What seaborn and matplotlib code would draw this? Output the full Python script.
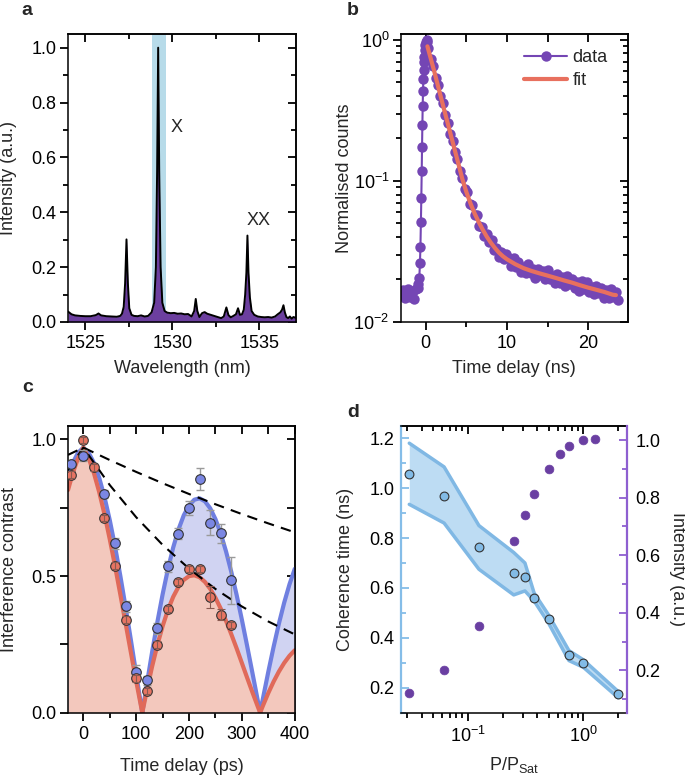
import numpy as np
import pandas as pd
import matplotlib
matplotlib.use("Agg")
import matplotlib.pyplot as plt
import seaborn as sns
from matplotlib.ticker import (MultipleLocator, LogLocator, NullFormatter,
                               FuncFormatter, LogFormatterSciNotation)

# ---------------- Panel a: PL spectrum ----------------
wavelength = [1524.0, 1524.2, 1524.4, 1524.7, 1525.0, 1525.3, 1525.6, 1525.75, 1525.9, 1526.2,
              1526.5, 1526.8, 1527.0, 1527.1, 1527.2, 1527.28, 1527.36, 1527.44, 1527.52, 1527.65,
              1527.8, 1528.0, 1528.2, 1528.4, 1528.6, 1528.8, 1528.95, 1529.05, 1529.12, 1529.18,
              1529.24, 1529.32, 1529.42, 1529.55, 1529.7, 1529.9, 1530.1, 1530.3, 1530.5, 1530.7,
              1530.9, 1531.1, 1531.25, 1531.34, 1531.43, 1531.55, 1531.7, 1531.85, 1532.0, 1532.2,
              1532.4, 1532.6, 1532.8, 1532.95, 1533.1, 1533.22, 1533.35, 1533.5, 1533.65, 1533.77,
              1533.88, 1534.0, 1534.1, 1534.18, 1534.25, 1534.31, 1534.37, 1534.45, 1534.55, 1534.7,
              1534.9, 1535.1, 1535.3, 1535.5, 1535.7, 1535.9, 1536.05, 1536.2, 1536.3, 1536.38,
              1536.46, 1536.55, 1536.65, 1536.75, 1536.85, 1536.95, 1537.1]
intensity_a = [0.038, 0.028, 0.024, 0.022, 0.021, 0.021, 0.025, 0.031, 0.024, 0.021,
               0.020, 0.019, 0.022, 0.030, 0.055, 0.14, 0.301, 0.14, 0.05, 0.026,
               0.022, 0.021, 0.024, 0.020, 0.022, 0.035, 0.07, 0.2, 0.55, 1.0,
               0.55, 0.2, 0.07, 0.04, 0.034, 0.032, 0.033, 0.030, 0.031, 0.028,
               0.029, 0.020, 0.04, 0.084, 0.04, 0.018, 0.032, 0.036, 0.030, 0.026,
               0.022, 0.018, 0.014, 0.020, 0.053, 0.025, 0.017, 0.022, 0.028, 0.05,
               0.026, 0.028, 0.045, 0.10, 0.18, 0.315, 0.18, 0.09, 0.04, 0.026,
               0.02, 0.018, 0.017, 0.018, 0.016, 0.02, 0.028, 0.035, 0.045, 0.061,
               0.035, 0.018, 0.014, 0.02, 0.012, 0.018, 0.015]
band_a = [1528.8, 1529.65]
peak_labels = ["X", "XX"]
peak_label_pos = [(1530.25, 0.71), (1534.97, 0.37)]

# ---------------- Panel b: lifetime ----------------
t_data = [-3.0, -2.8, -2.6, -2.4, -2.2, -2.0, -1.8, -1.6, -1.4, -1.2, -1.0,
          -0.9, -0.8, -0.72, -0.66, -0.6, -0.55, -0.5, -0.46, -0.42, -0.38, -0.34,
          -0.3, -0.26, -0.22, -0.17, -0.12, -0.07, 0.0, 0.1, 0.2,
          0.3, 0.6, 0.9, 1.2, 1.5, 1.8, 2.1, 2.4, 2.7, 3.0, 3.3, 3.6, 3.9, 4.2, 4.5, 4.8,
          5.1, 5.4, 5.7, 6.0, 6.3, 6.6, 6.9, 7.2, 7.5, 7.8, 8.1, 8.4, 8.7, 9.0, 9.3, 9.6, 9.9,
          10.2, 10.5, 10.8, 11.1, 11.4, 11.7, 12.0, 12.3, 12.6, 12.9, 13.2, 13.5, 13.8, 14.1,
          14.4, 14.7, 15.0, 15.3, 15.6, 15.9, 16.2, 16.5, 16.8, 17.1, 17.4, 17.7, 18.0, 18.3,
          18.6, 18.9, 19.2, 19.5, 19.8, 20.1, 20.4, 20.7, 21.0, 21.3, 21.6, 21.9, 22.2, 22.5,
          22.8, 23.1, 23.4, 23.7]
counts = [0.0155, 0.0168, 0.0147, 0.0162, 0.0172, 0.0150, 0.0160, 0.0166, 0.0146, 0.0170, 0.0175,
          0.0185, 0.0204, 0.026, 0.034, 0.0514, 0.0753, 0.118, 0.175, 0.25, 0.34, 0.435,
          0.53, 0.61, 0.695, 0.76, 0.85, 0.92, 0.97, 1.0, 0.96,
          0.877, 0.731, 0.652, 0.537, 0.475, 0.399, 0.355, 0.292, 0.258, 0.215, 0.193, 0.161,
          0.144, 0.118, 0.1045, 0.0881,
          0.0830, 0.0689, 0.0679, 0.0575, 0.0570, 0.0478, 0.0472, 0.0407, 0.0420, 0.0369, 0.0380,
          0.0325, 0.0332, 0.0290, 0.0313, 0.0279, 0.0301,
          0.0286, 0.0249, 0.0283, 0.0247, 0.0267, 0.0226, 0.0247, 0.0224, 0.0257, 0.0221, 0.0236,
          0.0206, 0.0239, 0.0215, 0.0231, 0.0201, 0.0233, 0.0201, 0.0213, 0.0190, 0.0218, 0.0190,
          0.0208, 0.0179, 0.0211, 0.0186, 0.0201, 0.0175, 0.0192, 0.0167, 0.0194, 0.0170, 0.0191,
          0.0164, 0.0177, 0.0158, 0.0181, 0.0160, 0.0175, 0.0149, 0.0169, 0.0149, 0.0171, 0.0150,
          0.0162, 0.0143]
t_fit = [0.2, 0.5, 1, 1.5, 2, 2.5, 3, 3.5, 4, 4.5, 5, 5.5, 6, 6.5, 7, 7.5, 8, 8.5, 9, 9.5, 10,
         11, 12, 13, 14, 15, 16, 17, 18, 19, 20, 21, 22, 23, 23.4]
fit_b = [0.899, 0.778, 0.610, 0.471, 0.365, 0.283, 0.220, 0.171, 0.133, 0.103, 0.0832, 0.0692,
         0.0589, 0.0513, 0.0452, 0.0403, 0.0365, 0.0335, 0.0310, 0.0292, 0.0278,
         0.0257, 0.0241, 0.0230, 0.0221, 0.0213, 0.0205, 0.0197, 0.0190, 0.0182, 0.0175,
         0.0169, 0.0163, 0.0156, 0.0155]

# ---------------- Panel c: interference contrast ----------------
tc_blue = [-23, 0, 40, 60, 80, 100, 120, 140, 160, 180, 200, 220, 240, 260, 280]
con_blue = [0.909, 0.941, 0.80, 0.62, 0.39, 0.149, 0.118, 0.309, 0.535, 0.655, 0.749, 0.855,
            0.695, 0.656, 0.484]
err_blue = [0.01, 0.02, 0.015, 0.02, 0.02, 0.025, 0.015, 0.02, 0.02, 0.02, 0.025, 0.04,
            0.045, 0.035, 0.086]
tc_red = [-23, 0, 20, 40, 60, 80, 100, 120, 140, 160, 180, 200, 220, 240, 260, 280]
con_red = [0.871, 0.998, 0.898, 0.712, 0.538, 0.341, 0.126, 0.079, 0.249, 0.379, 0.478,
           0.526, 0.526, 0.423, 0.359, 0.321]
err_red = [0.012, 0.012, 0.012, 0.012, 0.012, 0.012, 0.012, 0.012, 0.012, 0.012, 0.012,
           0.012, 0.012, 0.04, 0.02, 0.012]
t_curve = [-29, -20, -10, 0, 10, 20, 30, 40, 50, 60, 70, 80, 90, 100, 110, 111.5, 120, 130,
           140, 150, 160, 170, 180, 190, 200, 210, 220, 230, 240, 250, 260, 270, 280, 290, 300,
           310, 320, 330, 334.5, 340, 350, 360, 370, 380, 390, 400]
fit_blue = [0.8657, 0.9140, 0.9512, 0.970, 0.9512, 0.9140, 0.8595, 0.7891, 0.7044, 0.6076,
            0.5004, 0.3855, 0.2652, 0.1420, 0.0184, 0.0, 0.1032, 0.2206, 0.3313, 0.4333,
            0.5250, 0.6044, 0.6705, 0.7222, 0.7584, 0.7794, 0.7842, 0.7736, 0.7480, 0.7081,
            0.6550, 0.5899, 0.5146, 0.4311, 0.3396, 0.2433, 0.1446, 0.0448, 0.0, 0.0541,
            0.1501, 0.2412, 0.3258, 0.4025, 0.4695, 0.5262]
fit_red = [0.8148, 0.8766, 0.9316, 0.970, 0.9316, 0.8766, 0.8073, 0.7259, 0.6347, 0.5361,
           0.4324, 0.3262, 0.2198, 0.1153, 0.0146, 0.0, 0.0803, 0.1682, 0.2474, 0.3169,
           0.3759, 0.4240, 0.4606, 0.4858, 0.4997, 0.5028, 0.4956, 0.4787, 0.4533, 0.4202,
           0.3807, 0.3359, 0.2869, 0.2354, 0.1816, 0.1274, 0.0742, 0.0225, 0.0, 0.0266,
           0.0723, 0.1138, 0.1505, 0.1821, 0.2081, 0.2284]
t_env = [-29, 0, 50, 100, 150, 200, 250, 300, 350, 400]
env_slow = [0.9433, 0.970, 0.9244, 0.8810, 0.8396, 0.8002, 0.7626, 0.7267, 0.6926, 0.6600]
env_fast = [0.8879, 0.970, 0.8329, 0.7151, 0.6140, 0.5272, 0.4526, 0.3886, 0.3337, 0.2865]

# ---------------- Panel d: coherence vs power ----------------
p_coh = [0.03125, 0.0625, 0.125, 0.25, 0.3125, 0.375, 0.5, 0.75, 1.0, 2.0]
tau_coh = [1.058, 0.970, 0.763, 0.661, 0.645, 0.559, 0.474, 0.330, 0.299, 0.173]
tau_hi = [1.18, 1.085, 0.85, 0.742, 0.70, 0.58, 0.492, 0.349, 0.312, 0.185]
tau_lo = [0.935, 0.86, 0.675, 0.572, 0.588, 0.548, 0.459, 0.309, 0.282, 0.16]
p_int = [0.03125, 0.0625, 0.125, 0.25, 0.3125, 0.375, 0.5, 0.625, 0.75, 1.0, 1.25]
int_d = [0.122, 0.20, 0.354, 0.65, 0.74, 0.812, 0.901, 0.951, 0.979, 1.002, 1.003]

# ---------------- style ----------------
sns.set_style("ticks")
plt.rcParams["font.family"] = ["Liberation Sans", "DejaVu Sans"]
plt.rcParams.update({
    "mathtext.fontset": "custom",
    "mathtext.rm": "Liberation Sans",
    "mathtext.it": "Liberation Sans:italic",
    "mathtext.bf": "Liberation Sans:bold",
    "mathtext.sf": "Liberation Sans",
    "font.size": 13,
    "axes.linewidth": 1.1,
    "axes.edgecolor": "black",
    "xtick.color": "black",
    "ytick.color": "black",
    "xtick.labelcolor": "black",
    "ytick.labelcolor": "black",
})

PURPLE = "#6c3f9f"
LBLUE_BAND = "#b7dbe9"
B_DATA = "#7446b4"
B_FIT = "#e8705e"
C_BLUE_LINE = "#6f7fe0"
C_BLUE_FILL = "#d0d3f2"
C_RED_LINE = "#e06a5a"
C_RED_FILL = "#f3c8bd"
C_BLUE_M = "#7b87e3"
C_RED_M = "#e77462"
D_FILL = "#bddcf3"
D_EDGE = "#80b8e4"
D_BLUE_M = "#82bbe6"
D_PURP = "#6a3fa2"
D_LSPINE = "#85bde8"
D_RSPINE = "#8e5fd0"

MAJ, MIN, W = 5.8, 3.4, 1.3

fig = plt.figure(figsize=(6.85, 7.79), dpi=100)
axa = fig.add_axes([0.0993, 0.5867, 0.3328, 0.3697])
axb = fig.add_axes([0.5854, 0.5867, 0.3310, 0.3697])
axc = fig.add_axes([0.0993, 0.0851, 0.3310, 0.3684])
axd = fig.add_axes([0.5854, 0.0851, 0.3304, 0.3684])


def base_ticks(ax):
    ax.tick_params(which="major", length=MAJ, width=W, direction="out",
                   top=False, right=False, labelsize=13, color="black")
    ax.tick_params(which="minor", length=MIN, width=W, direction="out",
                   top=False, right=False, color="black")
    ax.tick_params(axis="y", which="major", pad=2.5)


def mirror_x(ax, major, minor):
    s = ax.secondary_xaxis("top")
    s.xaxis.set_major_locator(major)
    s.xaxis.set_minor_locator(minor)
    s.xaxis.set_major_formatter(NullFormatter())
    s.xaxis.set_minor_formatter(NullFormatter())
    s.tick_params(which="major", direction="in", length=MAJ, width=W, color="black")
    s.tick_params(which="minor", direction="in", length=MIN, width=W, color="black")
    return s


def mirror_y(ax, major, minor):
    s = ax.secondary_yaxis("right")
    s.yaxis.set_major_locator(major)
    s.yaxis.set_minor_locator(minor)
    s.yaxis.set_major_formatter(NullFormatter())
    s.yaxis.set_minor_formatter(NullFormatter())
    s.tick_params(which="major", direction="in", length=MAJ, width=W, color="black")
    s.tick_params(which="minor", direction="in", length=MIN, width=W, color="black")
    return s


# ---------- a ----------
df_a = pd.DataFrame({"wl": wavelength, "I": intensity_a})
axa.axvspan(band_a[0], band_a[1], color=LBLUE_BAND, zorder=0, lw=0)
axa.fill_between(df_a["wl"], df_a["I"], color=PURPLE, lw=0, zorder=1)
sns.lineplot(data=df_a, x="wl", y="I", ax=axa, color="black", lw=1.4, zorder=2,
             estimator=None, sort=False)
for lab, (px, py) in zip(peak_labels, peak_label_pos):
    axa.text(px, py, lab, ha="center", va="center", fontsize=13)
axa.set_xlim(1524.0, 1537.1)
axa.set_ylim(0, 1.05)
base_ticks(axa)
axa.xaxis.set_major_locator(MultipleLocator(5))
axa.xaxis.set_minor_locator(MultipleLocator(2.5))
axa.yaxis.set_major_locator(MultipleLocator(0.2))
axa.yaxis.set_minor_locator(MultipleLocator(0.1))
axa.yaxis.set_major_formatter(FuncFormatter(lambda v, p: f"{v:.1f}"))
mirror_x(axa, MultipleLocator(5), MultipleLocator(2.5))
mirror_y(axa, MultipleLocator(0.2), MultipleLocator(0.1))
axa.set_xlabel("Wavelength (nm)", fontsize=13, va="center")
axa.set_ylabel("Intensity (a.u.)", fontsize=13, va="center")
axa.xaxis.set_label_coords(0.5, -0.163)
axa.yaxis.set_label_coords(-0.259, 0.5)

# ---------- b ----------
df_b = pd.DataFrame({"t": t_data, "c": counts})
df_fit = pd.DataFrame({"t": t_fit, "c": fit_b})
sns.lineplot(data=df_b, x="t", y="c", ax=axb, color=B_DATA, lw=1.5, marker="o",
             markersize=7.5, markeredgewidth=0, label="data", estimator=None, sort=False,
             zorder=2)
sns.lineplot(data=df_fit, x="t", y="c", ax=axb, color=B_FIT, lw=3, label="fit",
             estimator=None, sort=False, zorder=3)
axb.set_yscale("log")
axb.set_xlim(-3.05, 24.85)
axb.set_ylim(0.01, 1.1)
base_ticks(axb)
axb.xaxis.set_major_locator(MultipleLocator(10))
axb.xaxis.set_minor_locator(MultipleLocator(5))
axb.yaxis.set_major_locator(LogLocator(base=10))
axb.yaxis.set_minor_locator(LogLocator(base=10, subs=np.arange(2, 10)))
axb.yaxis.set_major_formatter(LogFormatterSciNotation())
axb.yaxis.set_minor_formatter(NullFormatter())
mirror_x(axb, MultipleLocator(5), MultipleLocator(5))
mirror_y(axb, LogLocator(base=10), LogLocator(base=10, subs=np.arange(2, 10)))
leg = axb.legend(frameon=False, loc="upper right", bbox_to_anchor=(0.96, 0.985),
                 fontsize=13, handlelength=2.4, handletextpad=0.3, labelspacing=0.35,
                 borderaxespad=0.2)
axb.set_xlabel("Time delay (ns)", fontsize=13, va="center")
axb.set_ylabel("Normalised counts", fontsize=13, va="center")
axb.xaxis.set_label_coords(0.5, -0.163)
axb.yaxis.set_label_coords(-0.251, 0.5)

# ---------- c ----------
axc.fill_between(t_curve, fit_blue, color=C_BLUE_FILL, lw=0, zorder=1)
axc.fill_between(t_curve, fit_red, color=C_RED_FILL, lw=0, zorder=1.5)
df_cb = pd.DataFrame({"t": t_curve, "b": fit_blue, "r": fit_red})
sns.lineplot(data=df_cb, x="t", y="b", ax=axc, color=C_BLUE_LINE, lw=3, zorder=2,
             estimator=None, sort=False)
sns.lineplot(data=df_cb, x="t", y="r", ax=axc, color=C_RED_LINE, lw=3, zorder=2.5,
             estimator=None, sort=False)
axc.plot(t_env, env_slow, color="black", lw=1.5, ls=(0, (5, 3.5)), zorder=3)
axc.plot(t_env, env_fast, color="black", lw=1.5, ls=(0, (5, 3.5)), zorder=3)
axc.errorbar(tc_blue, con_blue, yerr=err_blue, fmt="none", ecolor="#9a9a9a",
             elinewidth=1, capsize=3, capthick=1, zorder=4)
sns.scatterplot(x=tc_blue, y=con_blue, ax=axc, s=48, color=C_BLUE_M, edgecolor="#333333",
                linewidth=0.8, zorder=5)
sns.scatterplot(x=tc_red, y=con_red, ax=axc, s=48, color=C_RED_M, edgecolor="#333333",
                linewidth=0.8, zorder=5)
axc.errorbar(tc_red, con_red, yerr=err_red, fmt="none", ecolor="#8a5a50",
             elinewidth=0.8, capsize=3, capthick=0.8, zorder=6)
axc.set_xlim(-29, 400)
axc.set_ylim(0, 1.05)
base_ticks(axc)
axc.xaxis.set_major_locator(MultipleLocator(100))
axc.xaxis.set_minor_locator(MultipleLocator(50))
axc.yaxis.set_major_locator(MultipleLocator(0.25))
axc.yaxis.set_major_formatter(FuncFormatter(
    lambda v, p: f"{v:.1f}" if abs(v / 0.5 - round(v / 0.5)) < 1e-6 else ""))
mirror_x(axc, MultipleLocator(50), MultipleLocator(50))
mirror_y(axc, MultipleLocator(0.25), MultipleLocator(0.25))
axc.set_xlabel("Time delay (ps)", fontsize=13, va="center")
axc.set_ylabel("Interference contrast", fontsize=13, va="center")
axc.xaxis.set_label_coords(0.5, -0.188)
axc.yaxis.set_label_coords(-0.26, 0.5)

# ---------- d ----------
axd.set_xscale("log")
axd.fill_between(p_coh, tau_lo, tau_hi, color=D_FILL, lw=0, zorder=1)
df_d = pd.DataFrame({"p": p_coh, "hi": tau_hi, "lo": tau_lo, "tau": tau_coh})
sns.lineplot(data=df_d, x="p", y="hi", ax=axd, color=D_EDGE, lw=2.5, zorder=2,
             estimator=None, sort=False)
sns.lineplot(data=df_d, x="p", y="lo", ax=axd, color=D_EDGE, lw=2.5, zorder=2,
             estimator=None, sort=False)
sns.scatterplot(data=df_d, x="p", y="tau", ax=axd, s=40, color=D_BLUE_M,
                edgecolor="#333333", linewidth=0.8, zorder=4)
axd.set_xlim(0.0265, 2.4)
axd.set_ylim(0.1, 1.25)
axd.tick_params(which="major", length=MAJ, width=W, direction="out", top=False,
                right=False, labelsize=13, color="black")
axd.tick_params(which="minor", length=MIN, width=W, direction="out", top=False,
                right=False, color="black")
axd.tick_params(axis="y", which="both", direction="in", color=D_LSPINE, pad=4.5)
axd.xaxis.set_major_locator(LogLocator(base=10))
axd.xaxis.set_minor_locator(LogLocator(base=10, subs=np.arange(2, 10)))
axd.xaxis.set_major_formatter(LogFormatterSciNotation())
axd.xaxis.set_minor_formatter(NullFormatter())
axd.yaxis.set_major_locator(MultipleLocator(0.2))
axd.yaxis.set_minor_locator(MultipleLocator(0.1))
axd.yaxis.set_major_formatter(FuncFormatter(lambda v, p: f"{v:.1f}"))
axd.spines["left"].set_color(D_LSPINE)
axd.spines["left"].set_linewidth(1.6)
axd.spines["right"].set_visible(False)
mirror_x(axd, LogLocator(base=10), LogLocator(base=10, subs=np.arange(2, 10)))

axd2 = axd.twinx()
sns.scatterplot(x=p_int, y=int_d, ax=axd2, s=40, color=D_PURP, edgecolor=D_PURP,
                linewidth=0.5, zorder=4)
axd2.set_ylim(0.0525, 1.05)
axd2.yaxis.set_major_locator(MultipleLocator(0.2))
axd2.yaxis.set_minor_locator(MultipleLocator(0.1))
axd2.yaxis.set_major_formatter(FuncFormatter(lambda v, p: f"{v:.1f}"))
axd2.tick_params(axis="y", which="major", direction="in", length=MAJ, width=W,
                 color=D_RSPINE, labelsize=13, pad=6)
axd2.tick_params(axis="y", which="minor", direction="in", length=MIN, width=W,
                 color=D_RSPINE)
axd2.spines["right"].set_color(D_RSPINE)
axd2.spines["right"].set_linewidth(1.6)
for side in ["left", "top", "bottom"]:
    axd2.spines[side].set_visible(False)
axd2.set_ylabel("Intensity (a.u.)", fontsize=13, rotation=270, va="center")
axd2.yaxis.set_label_coords(1.22, 0.5)

axd.set_xlabel(r"P/P$_{\rm Sat}$", fontsize=13, va="center")
axd.set_ylabel("Coherence time (ns)", fontsize=13, va="center")
axd.xaxis.set_label_coords(0.5, -0.182)
axd.yaxis.set_label_coords(-0.247, 0.5)

# ---------- panel letters ----------
for lab, x, y in [("a", 0.039, 0.987), ("b", 0.515, 0.987),
                  ("c", 0.041, 0.503), ("d", 0.515, 0.471)]:
    fig.text(x, y, lab, fontsize=14, fontweight="bold", ha="center", va="center")

fig.savefig("out.png", dpi=100)
